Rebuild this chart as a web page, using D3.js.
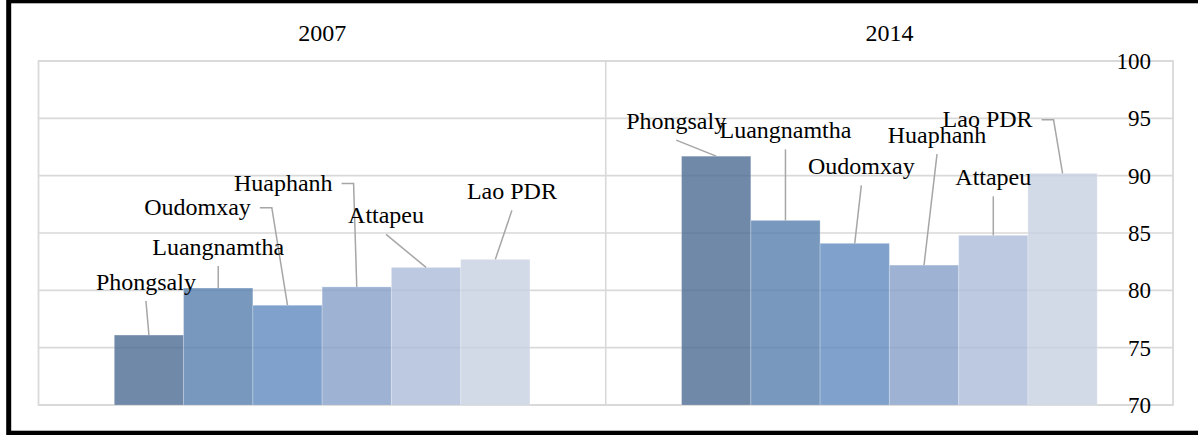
<!DOCTYPE html>
<html>
<head>
<meta charset="utf-8">
<script src="https://cdn.jsdelivr.net/npm/d3@7"></script>
<style>
  html, body { margin: 0; padding: 0; background: #fff; }
  svg { display: block; font-family: "Liberation Serif", "Times New Roman", serif; }
</style>
</head>
<body>
<svg id="chart" width="1198" height="435"></svg>
<script>
// Survey years (categories) and provinces (series)
const years = ["2007", "2014"];
const provinces = ["Phongsaly", "Luangnamtha", "Oudomxay", "Huaphanh", "Attapeu", "Lao PDR"];

// Values per province, in the order of `provinces`
const values2007 = [76.1, 80.2, 78.7, 80.3, 82.0, 82.7];
const values2014 = [91.7, 86.1, 84.1, 82.2, 84.8, 90.2];

// Value axis
const yTicks = [70, 75, 80, 85, 90, 95, 100];

// Series colours
const seriesColors = ["#4e6c94", "#567eae", "#5f8abe", "#869fc9", "#abbcd9", "#c8d1e1"];

// Callout placement relative to the top centre of each bar: [dx, dy, style]
const calloutLayout = {
  "2007": [[-3, -51, "down"], [0, -39, "down"], [-90, -96, "side"], [-73.5, -102, "side"], [-40, -50, "down"], [16.6, -66, "down"]],
  "2014": [[-40, -33, "down"], [0, -88, "down"], [6.6, -75, "down"], [13, -128, "down"], [0, -56, "down"], [-75, -52, "side"]]
};

const valuesByYear = { "2007": values2007, "2014": values2014 };
const rows = years.flatMap(yr => provinces.map((p, i) => ({ year: yr, province: p, value: valuesByYear[yr][i], idx: i })));

const svg = d3.select("#chart");

const plot = { left: 38.5, right: 1173, top: 61, bottom: 405 };

const x0 = d3.scaleBand().domain(years).range([plot.left, plot.right]).paddingInner(0).paddingOuter(0);
const x1 = d3.scaleBand().domain(provinces).range([0, x0.bandwidth()]).paddingInner(0).paddingOuter(1.094);
const y = d3.scaleLinear().domain([70, 100]).range([plot.bottom, plot.top]);
const color = d3.scaleOrdinal().domain(provinces).range(seriesColors);

const gridColor = "#d9d9d9";

// Horizontal gridlines
svg.append("g").selectAll("line").data(yTicks).join("line")
  .attr("x1", plot.left).attr("x2", plot.right)
  .attr("y1", d => y(d)).attr("y2", d => y(d))
  .attr("stroke", gridColor).attr("stroke-width", 1.6);

// Plot frame and category divider
svg.append("rect")
  .attr("x", plot.left).attr("y", plot.top)
  .attr("width", plot.right - plot.left).attr("height", plot.bottom - plot.top)
  .attr("fill", "none").attr("stroke", gridColor).attr("stroke-width", 1.8);
svg.append("g").selectAll("line").data(years.slice(1)).join("line")
  .attr("x1", d => x0(d)).attr("x2", d => x0(d))
  .attr("y1", plot.top).attr("y2", plot.bottom)
  .attr("stroke", gridColor).attr("stroke-width", 1.6);

// Category headers
svg.append("g").selectAll("text").data(years).join("text")
  .attr("x", d => x0(d) + x0.bandwidth() / 2)
  .attr("y", 41)
  .attr("text-anchor", "middle")
  .attr("font-size", 24)
  .attr("fill", "#000")
  .text(d => d);

// Bars
svg.append("g").selectAll("rect").data(rows).join("rect")
  .attr("x", d => x0(d.year) + x1(d.province))
  .attr("y", d => y(d.value))
  .attr("width", x1.bandwidth())
  .attr("height", d => y(70) - y(d.value))
  .attr("fill", d => color(d.province))
  .attr("fill-opacity", 0.8)
  .attr("stroke", "#fff").attr("stroke-opacity", 0.25).attr("stroke-width", 1);

// Callout labels with leader lines
const labelG = svg.append("g");
const leaderG = svg.insert("g", () => labelG.node());
rows.forEach(d => {
  const [dx, dy, style] = calloutLayout[d.year][d.idx];
  const bx = x0(d.year) + x1(d.province) + x1.bandwidth() / 2;
  const by = y(d.value);
  const cx = bx + dx, cy = by + dy;
  const t = labelG.append("text")
    .attr("x", cx).attr("y", cy + 6)
    .attr("text-anchor", "middle")
    .attr("font-size", 24)
    .attr("fill", "#000")
    .text(d.province);
  let pts;
  if (style === "down") {
    pts = [[cx, cy + 17], [bx, by]];
  } else {
    const right = cx + t.node().getComputedTextLength() / 2;
    pts = [[right + 9, cy - 1.5], [right + 21, cy - 1.5], [bx, by]];
  }
  leaderG.append("path")
    .attr("d", d3.line()(pts))
    .attr("fill", "none")
    .attr("stroke", "#a6a6a6")
    .attr("stroke-width", 1.5);
});

// Value axis labels, drawn inside the plot at the right
svg.append("g").selectAll("text").data(yTicks).join("text")
  .attr("x", 1151)
  .attr("y", d => y(d))
  .attr("dy", "0.35em")
  .attr("text-anchor", "end")
  .attr("font-size", 23)
  .attr("fill", "#000")
  .text(d => d);

// Outer border
svg.append("rect")
  .attr("x", 8.7).attr("y", 0.8)
  .attr("width", 1400).attr("height", 432.4)
  .attr("fill", "none").attr("stroke", "#000").attr("stroke-width", 5);
</script>
</body>
</html>
